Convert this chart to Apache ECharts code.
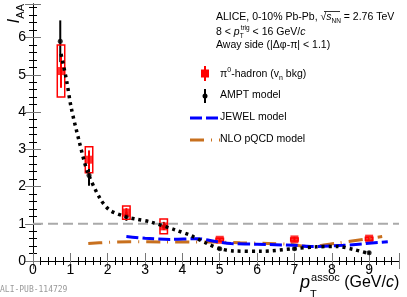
<!DOCTYPE html>
<html>
<head>
<meta charset="utf-8">
<script src="https://cdn.jsdelivr.net/npm/echarts@6/dist/echarts.min.js"></script>
<style>
  html, body { margin: 0; padding: 0; background: #fff; }
  #main { width: 407px; height: 297px; }
</style>
</head>
<body>
<div id="main"></div>
<script>
// pi0-hadron I_AA, away side
var pi0X = [0.75, 1.5, 2.5, 3.5, 5, 7, 9];
var pi0Y = [5.1, 2.72, 1.3, 0.93, 0.57, 0.58, 0.6];
var pi0Stat = [0.45, 0.25, 0.12, 0.1, 0.04, 0.07, 0.05];
var pi0Sys = [0.7, 0.35, 0.18, 0.2, 0.04, 0.04, 0.04];

// AMPT points
var amptX = [0.73, 1.5, 2.5, 3.5, 5, 7, 9];
var amptY = [5.9, 2.3, 1.2, 0.95, 0.33, 0.33, 0.22];
var amptErr = [0.56, 0.28, 0.12, 0.1, 0.04, 0.04, 0.04];

// AMPT curve (dotted)
var amptCurveX = [0.75, 0.9, 1.02, 1.23, 1.46, 1.8, 2.06, 2.51, 2.78, 3.14, 3.85, 4.21, 4.66, 5.01, 5.37, 6.1, 6.98, 7.6, 8.14, 8.58, 9.0];
var amptCurveY = [5.56, 4.84, 4.13, 3.24, 2.39, 1.67, 1.36, 1.18, 1.12, 1.05, 0.82, 0.69, 0.47, 0.33, 0.27, 0.26, 0.33, 0.38, 0.39, 0.31, 0.2];

// JEWEL
var jewelX = [2.5, 3.0, 3.67, 4.39, 4.92, 5.3, 6.0, 6.98, 7.43, 8.3, 9.5];
var jewelY = [0.66, 0.61, 0.58, 0.6, 0.52, 0.47, 0.45, 0.42, 0.39, 0.42, 0.52];

// NLO pQCD
var nloX = [1.48, 2.0, 2.6, 3.49, 4.21, 4.74, 5.55, 6.3, 6.8, 7.43, 8.14, 8.85, 9.35];
var nloY = [0.47, 0.5, 0.52, 0.51, 0.51, 0.51, 0.49, 0.47, 0.45, 0.39, 0.48, 0.58, 0.66];

var xTicks = [0, 1, 2, 3, 4, 5, 6, 7, 8, 9];
var yTicks = [0, 1, 2, 3, 4, 5, 6];

var font = 'Liberation Sans, Arial, sans-serif';
var boxHalfW = 0.1;

function zip(xs, ys) {
  return xs.map(function (x, i) { return [x, ys[i]]; });
}

var chart = echarts.init(document.getElementById('main'));

var axisCommon = {
  type: 'value',
  interval: 1,
  axisLine: { show: true, lineStyle: { color: '#000', width: 1 } },
  axisTick: { show: true, inside: true, length: 8, lineStyle: { color: '#777', width: 1 } },
  minorTick: { show: true, splitNumber: 5, length: 4, lineStyle: { color: '#000', width: 1 } },
  splitLine: { show: false }
};

var hdr = 10.5;
var leg = 10.5;

var option = {
  animation: false,
  grid: { left: 33, right: 8, top: 4, bottom: 36 },
  xAxis: [
    Object.assign({}, axisCommon, {
      min: 0, max: 9.8, position: 'bottom',
      axisLabel: {
        fontFamily: font, fontSize: 14, color: '#000', margin: 2,
        showMaxLabel: false,
        formatter: function (v) { return xTicks.indexOf(v) >= 0 ? String(v) : ''; }
      }
    }),
    Object.assign({}, axisCommon, {
      min: 0, max: 9.8, position: 'top', axisLabel: { show: false }
    })
  ],
  yAxis: [
    Object.assign({}, axisCommon, {
      min: 0, max: 6.9, position: 'left',
      axisLabel: {
        fontFamily: font, fontSize: 14, color: '#000', margin: 7,
        showMaxLabel: false,
        formatter: function (v) { return yTicks.indexOf(v) >= 0 ? String(v) : ''; }
      }
    }),
    Object.assign({}, axisCommon, {
      min: 0, max: 6.9, position: 'right', axisLabel: { show: false }
    })
  ],
  series: [
    {
      // unity reference
      type: 'line', data: [[0, 1], [9.8, 1]], symbol: 'none', silent: true,
      lineStyle: { color: '#aaa', width: 2, type: [10, 5] }
    },
    {
      type: 'line', data: zip(nloX, nloY), symbol: 'none', smooth: 0.3,
      lineStyle: { color: '#c8701e', width: 3, type: [14, 7, 1, 7] }
    },
    {
      type: 'line', data: zip(jewelX, jewelY), symbol: 'none', smooth: 0.3,
      lineStyle: { color: '#0000ff', width: 3, type: [12, 4] }
    },
    {
      type: 'line', data: zip(amptCurveX, amptCurveY), symbol: 'none', smooth: 0.3,
      lineStyle: { color: '#000', width: 3.5, type: [3, 4] }
    },
    {
      // AMPT error bars
      type: 'custom',
      data: amptX.map(function (x, i) { return [x, amptY[i], amptErr[i]]; }),
      renderItem: function (params, api) {
        var p1 = api.coord([api.value(0), api.value(1) - api.value(2)]);
        var p2 = api.coord([api.value(0), api.value(1) + api.value(2)]);
        return { type: 'line', shape: { x1: p1[0], y1: p1[1], x2: p2[0], y2: p2[1] },
          style: { stroke: '#000', lineWidth: 2 } };
      }
    },
    {
      type: 'scatter', data: zip(amptX, amptY), symbol: 'circle', symbolSize: 5,
      itemStyle: { color: '#000' }
    },
    {
      // systematic boxes
      type: 'custom',
      data: pi0X.map(function (x, i) { return [x, pi0Y[i], pi0Sys[i]]; }),
      renderItem: function (params, api) {
        var a = api.coord([api.value(0) - boxHalfW, api.value(1) + api.value(2)]);
        var b = api.coord([api.value(0) + boxHalfW, api.value(1) - api.value(2)]);
        return { type: 'rect', shape: { x: a[0], y: a[1], width: b[0] - a[0], height: b[1] - a[1] },
          style: { stroke: '#ff0000', fill: 'none', lineWidth: 1.5 } };
      }
    },
    {
      // stat error bars
      type: 'custom',
      data: pi0X.map(function (x, i) { return [x, pi0Y[i], pi0Stat[i]]; }),
      renderItem: function (params, api) {
        var p1 = api.coord([api.value(0), api.value(1) - api.value(2)]);
        var p2 = api.coord([api.value(0), api.value(1) + api.value(2)]);
        return { type: 'line', shape: { x1: p1[0], y1: p1[1], x2: p2[0], y2: p2[1] },
          style: { stroke: '#ff0000', lineWidth: 2 } };
      }
    },
    {
      type: 'scatter', data: zip(pi0X, pi0Y), symbol: 'rect', symbolSize: 8,
      itemStyle: { color: '#ff0000' }
    }
  ],
  graphic: [
    // y title
    {
      type: 'text', x: 6, y: 4, rotation: Math.PI / 2, originX: 0, originY: 0,
      style: {
        text: '{i|I}{s|AA}', align: 'right', verticalAlign: 'top',
        rich: {
          i: { fontFamily: font, fontSize: 17, fontStyle: 'italic', fill: '#000', verticalAlign: 'top', lineHeight: 20 },
          s: { fontFamily: font, fontSize: 11, fill: '#000', verticalAlign: 'bottom', lineHeight: 20 }
        }
      }
    },
    // x title
    {
      type: 'text', x: 300, y: 272,
      style: {
        text: '{i|p}{t|T}{a|assoc}{n| (GeV/}{ic|c}{n|)}',
        rich: {
          i: { fontFamily: font, fontSize: 18, fontStyle: 'italic', fill: '#000', lineHeight: 22 },
          t: { fontFamily: font, fontSize: 11, fill: '#000', verticalAlign: 'bottom', lineHeight: 22, width: 1, padding: [0, 0, -6, 0] },
          a: { fontFamily: font, fontSize: 11, fill: '#000', verticalAlign: 'top', lineHeight: 22 },
          n: { fontFamily: font, fontSize: 16, fill: '#000', lineHeight: 22 },
          ic: { fontFamily: font, fontSize: 16, fontStyle: 'italic', fill: '#000', lineHeight: 22 }
        }
      }
    },
    // header
    {
      type: 'text', x: 216, y: 10,
      style: {
        text: '{n|ALICE, 0-10% Pb-Pb, √}{i|s}{s|NN}{n| = 2.76 TeV}',
        rich: {
          n: { fontFamily: font, fontSize: hdr, fill: '#000', lineHeight: 15 },
          i: { fontFamily: font, fontSize: hdr, fontStyle: 'italic', fill: '#000', lineHeight: 15 },
          s: { fontFamily: font, fontSize: 6.5, fill: '#000', verticalAlign: 'bottom', lineHeight: 14 }
        }
      }
    },
    { type: 'line', shape: { x1: 324, y1: 11.5, x2: 340, y2: 11.5 }, style: { stroke: '#000', lineWidth: 0.8 } },
    {
      type: 'text', x: 216, y: 25,
      style: {
        text: '{n|8 < }{i|p}{t|T}{u|trig}{n| < 16 GeV/}{i|c}',
        rich: {
          n: { fontFamily: font, fontSize: hdr, fill: '#000', lineHeight: 15 },
          i: { fontFamily: font, fontSize: hdr, fontStyle: 'italic', fill: '#000', lineHeight: 15 },
          t: { fontFamily: font, fontSize: 6.5, fill: '#000', verticalAlign: 'bottom', lineHeight: 15, width: 1 },
          u: { fontFamily: font, fontSize: 6.5, fill: '#000', verticalAlign: 'top', lineHeight: 15 }
        }
      }
    },
    {
      type: 'text', x: 216, y: 40,
      style: { text: 'Away side (|Δφ-π| < 1.1)', fontFamily: font, fontSize: hdr, fill: '#000' }
    },
    // legend
    { type: 'line', shape: { x1: 205, y1: 66, x2: 205, y2: 81 }, style: { stroke: '#ff0000', lineWidth: 2 } },
    { type: 'rect', shape: { x: 201, y: 69.5, width: 8, height: 8 }, style: { fill: '#ff0000' } },
    {
      type: 'text', x: 220, y: 67,
      style: {
        text: '{n|π}{u|0}{n|-hadron (v}{s|n}{n| bkg)}',
        rich: {
          n: { fontFamily: font, fontSize: leg, fill: '#000', lineHeight: 15 },
          u: { fontFamily: font, fontSize: 7, fill: '#000', verticalAlign: 'top', lineHeight: 15 },
          s: { fontFamily: font, fontSize: 7, fill: '#000', verticalAlign: 'bottom', lineHeight: 15 }
        }
      }
    },
    { type: 'line', shape: { x1: 205, y1: 89, x2: 205, y2: 103 }, style: { stroke: '#000', lineWidth: 2 } },
    { type: 'circle', shape: { cx: 205, cy: 96, r: 2.5 }, style: { fill: '#000' } },
    { type: 'text', x: 220, y: 90, style: { text: 'AMPT model', fontFamily: font, fontSize: leg, fill: '#000' } },
    { type: 'line', shape: { x1: 190, y1: 118, x2: 220, y2: 118 }, style: { stroke: '#0000ff', lineWidth: 3, lineDash: [12, 4] } },
    { type: 'text', x: 220, y: 112, style: { text: 'JEWEL model', fontFamily: font, fontSize: leg, fill: '#000' } },
    { type: 'line', shape: { x1: 190, y1: 140, x2: 220, y2: 140 }, style: { stroke: '#c8701e', lineWidth: 3, lineDash: [14, 7, 1, 7] } },
    { type: 'text', x: 220, y: 134, style: { text: 'NLO pQCD model', fontFamily: font, fontSize: leg, fill: '#000' } },
    // publication tag
    { type: 'text', x: 0, y: 286, style: { text: 'ALI-PUB-114729', fontFamily: 'DejaVu Sans Mono, monospace', fontSize: 8, fill: '#999' } }
  ]
};

chart.setOption(option);
</script>
</body>
</html>
